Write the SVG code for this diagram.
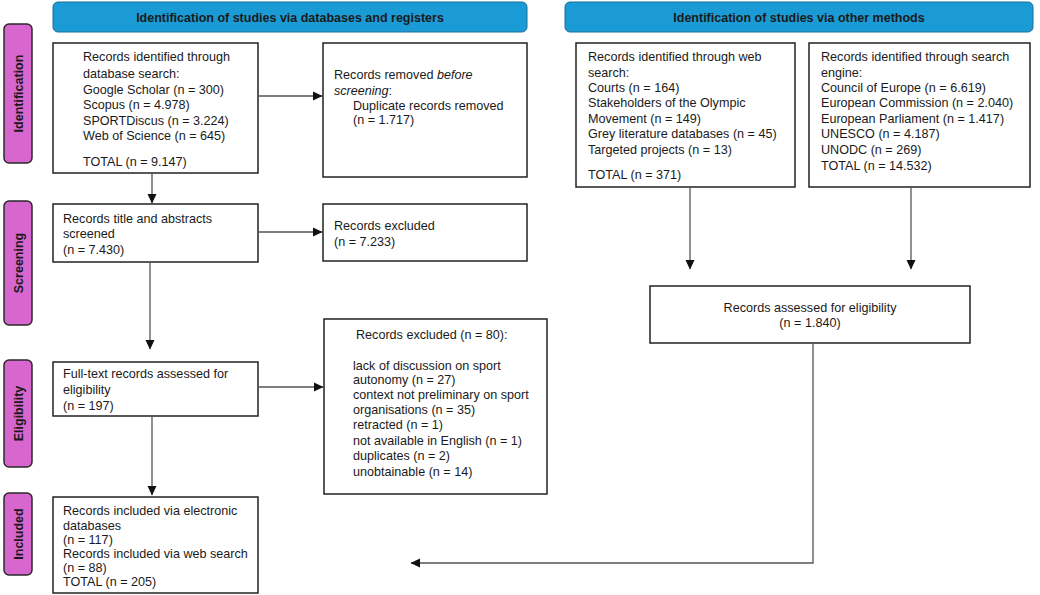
<svg xmlns="http://www.w3.org/2000/svg" width="1040" height="595" viewBox="0 0 1040 595">
<defs>
<marker id="ah" markerWidth="10" markerHeight="10" refX="9" refY="5" orient="auto" markerUnits="userSpaceOnUse">
<path d="M0,0.5 L9.5,5 L0,9.5 Z" fill="#111"/>
</marker>
<style>
.hdr{fill:#1a9bd6;stroke:#1f6f99;stroke-width:1}
.hdrt{font-family:"Liberation Sans",Arial,sans-serif;font-size:12.5px;font-weight:bold;fill:#1a1a1a;text-anchor:middle}
.side{fill:#d766cf;stroke:#2a2a2a;stroke-width:1.5}
.sidet{font-family:"Liberation Sans",Arial,sans-serif;font-size:12.5px;font-weight:bold;fill:#1a1a1a;text-anchor:middle}
.box{fill:#fff;stroke:#222;stroke-width:1.5}
.t{font-family:"Liberation Sans",Arial,sans-serif;font-size:12.6px;fill:#1a1a1a}
.c{text-anchor:middle}
.ln{fill:none;stroke:#555;stroke-width:1.3}
</style>
</defs>
<rect width="1040" height="595" fill="#fff"/>

<g id="header-db"><rect class="hdr" x="53" y="2" width="474" height="30" rx="5"/><text class="hdrt" x="290" y="21.5">Identification of studies via databases and registers</text></g>
<g id="header-other"><rect class="hdr" x="565" y="2" width="468" height="30" rx="5"/><text class="hdrt" x="799" y="21.5">Identification of studies via other methods</text></g>

<g id="label-identification"><rect class="side" x="4" y="24" width="28" height="139" rx="5"/><text class="sidet" transform="translate(22.5,93.5) rotate(-90)">Identification</text></g>
<g id="label-screening"><rect class="side" x="4" y="201" width="28" height="124" rx="5"/><text class="sidet" transform="translate(22.5,263) rotate(-90)">Screening</text></g>
<g id="label-eligibility"><rect class="side" x="4" y="360" width="28" height="107" rx="5"/><text class="sidet" transform="translate(22.5,413.5) rotate(-90)">Eligibility</text></g>
<g id="label-included"><rect class="side" x="4" y="493" width="28" height="82" rx="5"/><text class="sidet" transform="translate(22.5,534) rotate(-90)">Included</text></g>

<g id="box-db-search"><rect class="box" x="53" y="43" width="205" height="130"/>
<text class="t" x="83" y="60.5">Records identified through</text>
<text class="t" x="83" y="78">database search:</text>
<text class="t" x="83" y="93.5">Google Scholar (n = 300)</text>
<text class="t" x="83" y="109">Scopus (n = 4.978)</text>
<text class="t" x="83" y="124.5">SPORTDiscus (n = 3.224)</text>
<text class="t" x="83" y="140">Web of Science (n = 645)</text>
<text class="t" x="83" y="166">TOTAL (n = 9.147)</text>
</g>
<g id="box-removed"><rect class="box" x="323" y="43" width="204" height="134"/>
<text class="t" x="334" y="78.5">Records removed <tspan font-style="italic">before</tspan></text>
<text class="t" x="334" y="95"><tspan font-style="italic">screening</tspan>:</text>
<text class="t" x="353" y="109.5">Duplicate records removed</text>
<text class="t" x="353" y="124">(n = 1.717)</text>
</g>
<g id="box-screened"><rect class="box" x="53" y="204" width="205" height="58"/>
<text class="t" x="63" y="222.5">Records title and abstracts</text>
<text class="t" x="63" y="238">screened</text>
<text class="t" x="63" y="254">(n = 7.430)</text>
</g>
<g id="box-excluded1"><rect class="box" x="323" y="204" width="204" height="57"/>
<text class="t" x="334" y="229.5">Records excluded</text>
<text class="t" x="334" y="246">(n = 7.233)</text>
</g>
<g id="box-fulltext"><rect class="box" x="53" y="362" width="205" height="54"/>
<text class="t" x="63" y="377.5">Full-text records assessed for</text>
<text class="t" x="63" y="393.5">eligibility</text>
<text class="t" x="63" y="409.5">(n = 197)</text>
</g>
<g id="box-excluded2"><rect class="box" x="324" y="319" width="223" height="175"/>
<text class="t" x="356" y="338.5">Records excluded (n = 80):</text>
<text class="t" x="353" y="369.5">lack of discussion on sport</text>
<text class="t" x="353" y="384">autonomy (n = 27)</text>
<text class="t" x="353" y="399">context not preliminary on sport</text>
<text class="t" x="353" y="414">organisations (n = 35)</text>
<text class="t" x="353" y="429">retracted (n = 1)</text>
<text class="t" x="353" y="444.5">not available in English (n = 1)</text>
<text class="t" x="353" y="460">duplicates (n = 2)</text>
<text class="t" x="353" y="475.5">unobtainable (n = 14)</text>
</g>
<g id="box-included"><rect class="box" x="53" y="497" width="205" height="96"/>
<text class="t" x="63" y="514.5">Records included via electronic</text>
<text class="t" x="63" y="529.5">databases</text>
<text class="t" x="63" y="543.5">(n = 117)</text>
<text class="t" x="63" y="557.5">Records included via web search</text>
<text class="t" x="63" y="571.5">(n = 88)</text>
<text class="t" x="63" y="586">TOTAL (n = 205)</text>
</g>
<g id="box-web"><rect class="box" x="576" y="43" width="219" height="144"/>
<text class="t" x="588" y="60.5">Records identified through web</text>
<text class="t" x="588" y="76.5">search:</text>
<text class="t" x="588" y="91.5">Courts (n = 164)</text>
<text class="t" x="588" y="107">Stakeholders of the Olympic</text>
<text class="t" x="588" y="122.5">Movement (n = 149)</text>
<text class="t" x="588" y="138">Grey literature databases (n = 45)</text>
<text class="t" x="588" y="153.5">Targeted projects (n = 13)</text>
<text class="t" x="588" y="178.5">TOTAL (n = 371)</text>
</g>
<g id="box-engine"><rect class="box" x="809" y="43" width="221" height="144"/>
<text class="t" x="821" y="60.5">Records identified through search</text>
<text class="t" x="821" y="76.5">engine:</text>
<text class="t" x="821" y="91.5">Council of Europe (n = 6.619)</text>
<text class="t" x="821" y="107">European Commission (n = 2.040)</text>
<text class="t" x="821" y="122.5">European Parliament (n = 1.417)</text>
<text class="t" x="821" y="138">UNESCO (n = 4.187)</text>
<text class="t" x="821" y="153.5">UNODC (n = 269)</text>
<text class="t" x="821" y="169.5">TOTAL (n = 14.532)</text>
</g>
<g id="box-assessed"><rect class="box" x="650" y="286" width="320" height="57"/>
<text class="t c" x="810" y="311.5">Records assessed for eligibility</text>
<text class="t c" x="810" y="326.5">(n = 1.840)</text>
</g>

<g id="connectors">
<line class="ln" x1="258" y1="96" x2="322" y2="96" marker-end="url(#ah)"/>
<line class="ln" x1="152" y1="173" x2="152" y2="203" marker-end="url(#ah)"/>
<line class="ln" x1="258" y1="232" x2="322" y2="232" marker-end="url(#ah)"/>
<line class="ln" x1="150" y1="262" x2="150" y2="349" marker-end="url(#ah)"/>
<line class="ln" x1="258" y1="387" x2="323" y2="387" marker-end="url(#ah)"/>
<line class="ln" x1="152" y1="416" x2="152" y2="495" marker-end="url(#ah)"/>
<line class="ln" x1="690" y1="187" x2="690" y2="269" marker-end="url(#ah)"/>
<line class="ln" x1="911" y1="187" x2="911" y2="269" marker-end="url(#ah)"/>
<polyline class="ln" points="813,344 813,563 411,563" marker-end="url(#ah)"/>
</g>
</svg>
